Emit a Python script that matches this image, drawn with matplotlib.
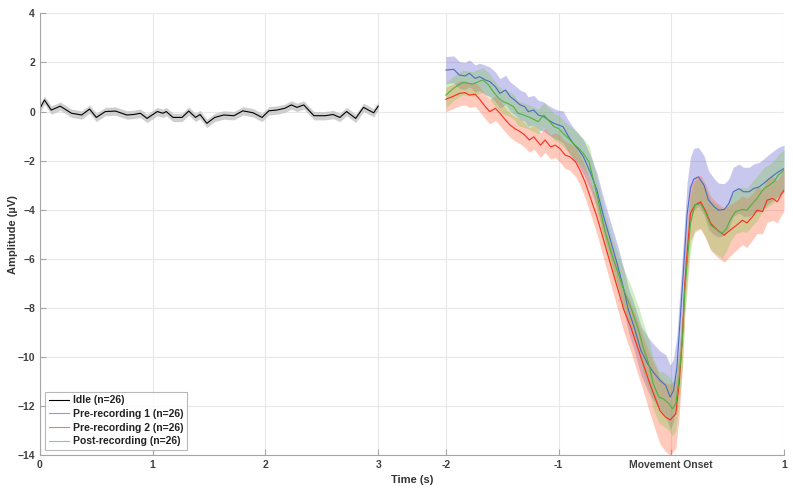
import matplotlib
matplotlib.use("Agg")
import matplotlib.pyplot as plt
import numpy as np

plt.rcParams['font.family'] = ['Liberation Sans', 'DejaVu Sans']

# Idle segment (0..3 s), mean and SEM
idle_t = [0.00, 0.04, 0.10, 0.18, 0.28, 0.37, 0.44, 0.50, 0.58, 0.67, 0.77, 0.83,
          0.89, 0.95, 1.04, 1.09, 1.12, 1.18, 1.26, 1.32, 1.38, 1.42, 1.48, 1.55,
          1.63, 1.72, 1.80, 1.89, 1.97, 2.03, 2.10, 2.17, 2.23, 2.28, 2.34, 2.43,
          2.53, 2.60, 2.66, 2.72, 2.80, 2.87, 2.93, 2.96, 3.00]
idle_mean = [0.13, 0.47, 0.06, 0.22, -0.07, -0.14, 0.10, -0.24, 0.00, 0.02, -0.14, -0.12,
             -0.07, -0.28, 0.00, -0.07, 0.00, -0.24, -0.24, 0.02, -0.24, -0.12, -0.48, -0.24,
             -0.14, -0.17, 0.03, -0.05, -0.24, 0.03, 0.06, 0.13, 0.27, 0.17, 0.27, -0.17,
             -0.17, -0.12, -0.24, 0.00, -0.28, 0.17, 0.02, -0.05, 0.22]
idle_sem = 0.17

# Pre-recording 1 (blue), time relative to movement onset
pre1_t = [-2.00, -1.93, -1.88, -1.83, -1.79, -1.74, -1.70, -1.65, -1.61, -1.56, -1.52, -1.47,
          -1.43, -1.39, -1.34, -1.30, -1.27, -1.22, -1.18, -1.13, -1.09, -1.04, -1.00, -0.96,
          -0.91, -0.87, -0.82, -0.78, -0.72, -0.66, -0.60, -0.54, -0.48, -0.42, -0.38, -0.33,
          -0.27, -0.21, -0.16, -0.10, -0.05, -0.01, 0.02, 0.05, 0.08, 0.11, 0.14, 0.17,
          0.20, 0.24, 0.29, 0.33, 0.38, 0.42, 0.47, 0.51, 0.55, 0.60, 0.64, 0.69,
          0.73, 0.78, 0.82, 0.87, 0.91, 0.95, 1.00]
pre1_mean = [1.69, 1.72, 1.49, 1.45, 1.56, 1.35, 1.42, 1.29, 1.22, 1.01, 0.74, 0.88,
             0.61, 0.47, 0.27, 0.20, 0.00, 0.06, -0.14, -0.21, -0.35, -0.48, -0.55, -0.62,
             -1.03, -1.30, -1.57, -1.84, -2.46, -3.20, -4.29, -5.24, -6.20, -7.28, -8.10, -8.78,
             -9.73, -10.28, -10.62, -10.96, -11.16, -11.64, -11.37, -10.41, -8.37, -6.33, -4.20, -3.10,
             -2.75, -2.66, -3.00, -3.61, -3.88, -4.02, -3.99, -3.75, -3.27, -3.14, -3.27, -3.27,
             -3.14, -3.07, -2.93, -2.73, -2.59, -2.46, -2.32]
pre1_sem = [0.55, 0.55, 0.55, 0.55, 0.55, 0.55, 0.55, 0.6, 0.6, 0.6, 0.6, 0.6,
            0.6, 0.6, 0.6, 0.6, 0.6, 0.6, 0.6, 0.6, 0.6, 0.6, 0.6, 0.65,
            0.65, 0.65, 0.65, 0.7, 0.7, 0.7, 0.75, 0.75, 0.8, 0.85, 0.9, 0.95,
            1.0, 1.1, 1.15, 1.2, 1.25, 1.3, 1.3, 1.3, 1.3, 1.3, 1.3, 1.25,
            1.25, 1.2, 1.2, 1.2, 1.15, 1.1, 1.05, 1.0, 1.0, 1.0, 1.0, 1.0,
            1.0, 1.0, 1.0, 1.0, 1.0, 1.0, 0.95]

# Pre-recording 2 (red)
pre2_t = [-2.00, -1.93, -1.88, -1.83, -1.79, -1.74, -1.70, -1.65, -1.61, -1.56, -1.52, -1.47,
          -1.43, -1.39, -1.34, -1.30, -1.26, -1.22, -1.16, -1.12, -1.07, -1.03, -0.99, -0.94,
          -0.90, -0.85, -0.81, -0.76, -0.72, -0.66, -0.60, -0.54, -0.48, -0.42, -0.36, -0.31,
          -0.25, -0.19, -0.14, -0.10, -0.05, -0.01, 0.04, 0.07, 0.10, 0.12, 0.15, 0.17,
          0.21, 0.26, 0.30, 0.35, 0.41, 0.47, 0.52, 0.58, 0.63, 0.67, 0.72, 0.76,
          0.81, 0.85, 0.90, 0.94, 0.98, 1.00]
pre2_mean = [0.50, 0.63, 0.74, 0.77, 0.67, 0.71, 0.50, 0.20, 0.00, 0.13, -0.07, -0.35,
             -0.55, -0.69, -0.82, -0.96, -1.16, -1.03, -1.37, -1.16, -1.44, -1.37, -1.50, -1.78,
             -1.84, -2.05, -2.39, -2.93, -3.48, -4.29, -5.24, -6.20, -7.15, -8.10, -8.78, -9.46,
             -10.28, -11.10, -11.71, -12.20, -12.46, -12.57, -12.32, -11.10, -9.05, -7.01, -5.24, -4.15,
             -3.81, -3.68, -4.02, -4.56, -4.84, -5.04, -4.84, -4.63, -4.43, -4.54, -4.29, -4.02,
             -4.08, -3.61, -3.54, -3.68, -3.34, -3.20]
pre2_sem = [0.5, 0.5, 0.5, 0.5, 0.5, 0.5, 0.5, 0.5, 0.5, 0.5, 0.5, 0.5,
            0.5, 0.5, 0.5, 0.5, 0.5, 0.5, 0.5, 0.5, 0.5, 0.5, 0.55, 0.55,
            0.55, 0.6, 0.6, 0.65, 0.65, 0.7, 0.75, 0.8, 0.85, 0.9, 1.0, 1.05,
            1.1, 1.2, 1.3, 1.35, 1.4, 1.45, 1.4, 1.3, 1.2, 1.15, 1.1, 1.1,
            1.1, 1.1, 1.1, 1.1, 1.1, 1.1, 1.05, 1.0, 1.0, 1.0, 0.95, 0.95,
            0.9, 0.9, 0.9, 0.85, 0.85, 0.85]

# Post-recording (green)
post_t = [-2.00, -1.93, -1.89, -1.85, -1.80, -1.76, -1.71, -1.67, -1.62, -1.58, -1.53, -1.49,
          -1.45, -1.40, -1.36, -1.31, -1.27, -1.22, -1.18, -1.13, -1.09, -1.04, -1.00, -0.96,
          -0.91, -0.87, -0.82, -0.78, -0.73, -0.69, -0.65, -0.59, -0.53, -0.47, -0.41, -0.35,
          -0.29, -0.25, -0.20, -0.16, -0.11, -0.07, -0.02, 0.01, 0.04, 0.07, 0.10, 0.12,
          0.15, 0.17, 0.21, 0.26, 0.30, 0.35, 0.41, 0.45, 0.49, 0.52, 0.57, 0.63,
          0.67, 0.72, 0.76, 0.82, 0.87, 0.91, 0.95, 1.00]
post_mean = [0.67, 0.95, 1.08, 1.18, 1.15, 1.12, 1.22, 1.29, 1.08, 0.81, 0.54, 0.40,
             0.33, 0.20, -0.07, -0.14, -0.21, -0.32, -0.41, -0.14, -0.35, -0.62, -0.69, -0.89,
             -1.10, -1.30, -1.50, -1.71, -2.05, -2.80, -3.60, -4.84, -5.79, -6.61, -7.42, -8.10,
             -8.92, -9.60, -10.28, -11.10, -11.64, -11.71, -11.91, -12.12, -11.91, -10.82, -9.19, -7.29,
             -5.65, -4.56, -3.81, -3.75, -4.08, -4.63, -4.84, -4.97, -4.77, -4.43, -4.08, -3.99,
             -4.02, -3.75, -3.54, -3.14, -3.00, -2.86, -2.59, -2.39]
post_sem = [0.5, 0.5, 0.5, 0.5, 0.5, 0.5, 0.5, 0.5, 0.5, 0.5, 0.5, 0.5,
            0.5, 0.5, 0.5, 0.5, 0.5, 0.5, 0.5, 0.5, 0.5, 0.55, 0.55, 0.55,
            0.55, 0.6, 0.6, 0.6, 0.65, 0.65, 0.7, 0.7, 0.75, 0.8, 0.85, 0.9,
            0.95, 1.0, 1.0, 1.05, 1.05, 1.1, 1.1, 1.1, 1.1, 1.1, 1.1, 1.1,
            1.1, 1.1, 1.0, 1.0, 1.0, 1.0, 1.0, 1.0, 0.9, 0.9, 0.9, 0.9,
            0.9, 0.9, 0.9, 0.85, 0.85, 0.85, 0.85, 0.85]

labels = ['Idle (n=26)', 'Pre-recording 1 (n=26)', 'Pre-recording 2 (n=26)', 'Post-recording (n=26)']
xtick_labels = ['0', '1', '2', '3', '-2', '-1', 'Movement Onset', '1']
onset_offset = 5.6  # where movement onset sits on the shared x axis

fig = plt.figure(figsize=(7.93, 4.97), dpi=100)
ax = fig.add_axes([0.0504, 0.0845, 0.9383, 0.8885])

# idle
it = np.array(idle_t)
im = np.array(idle_mean)
ax.fill_between(it, im - idle_sem, im + idle_sem, color='#c4c4c4', alpha=0.8, lw=0)
ax.plot(it, im, color='black', lw=0.8, label=labels[0])

series = [
    (pre1_t, pre1_mean, pre1_sem, '#4a6cc0', (0.35, 0.35, 0.8), 0.33, labels[1]),
    (pre2_t, pre2_mean, pre2_sem, '#ff2a1a', (1.0, 0.4, 0.25), 0.35, labels[2]),
    (post_t, post_mean, post_sem, '#4fb33a', (0.45, 0.78, 0.25), 0.3, labels[3]),
]
for t, m, s, lc, fc, a, lab in series:
    t = np.array(t) + onset_offset
    m = np.array(m)
    s = np.array(s)
    ax.fill_between(t, m - s, m + s, color=fc, alpha=a, lw=0)
for t, m, s, lc, fc, a, lab in series:
    t = np.array(t) + onset_offset
    ax.plot(t, m, color=lc, lw=0.8, label=lab)

ax.set_xlim(0, 6.6)
ax.set_ylim(-14, 4)
ax.set_xticks([0, 1, 2, 3, onset_offset - 2, onset_offset - 1, onset_offset, onset_offset + 1])
ax.set_xticklabels(xtick_labels)
ax.set_yticks(np.arange(-14, 5, 2))

ax.grid(True, color='#e8e8e8', lw=0.8)
ax.set_axisbelow(True)
for side in ['top', 'right']:
    ax.spines[side].set_visible(False)
for side in ['left', 'bottom']:
    ax.spines[side].set_color('#a6a6a6')
ax.tick_params(direction='in', length=4, color='#a6a6a6', labelsize=7.5, labelcolor='#404040')
for lbl in ax.get_xticklabels() + ax.get_yticklabels():
    lbl.set_fontweight('bold')

ax.set_xlabel('Time (s)', fontsize=8, fontweight='bold', color='#333333', labelpad=4)
ax.set_ylabel('Amplitude (µV)', fontsize=8, fontweight='bold', color='#333333', labelpad=0)

leg = ax.legend(loc='lower left', fontsize=7.5, frameon=True, fancybox=False,
                handlelength=1.9, borderaxespad=0.5, labelspacing=0.35,
                handletextpad=0.4, borderpad=0.35)
leg.get_frame().set_edgecolor('#a6a6a6')
leg.get_frame().set_linewidth(0.8)
for txt in leg.get_texts():
    txt.set_fontweight('bold')
    txt.set_color('#222222')
for h in leg.get_lines()[1:]:
    h.set_alpha(0.65)

fig.savefig('out.png', dpi=100)
